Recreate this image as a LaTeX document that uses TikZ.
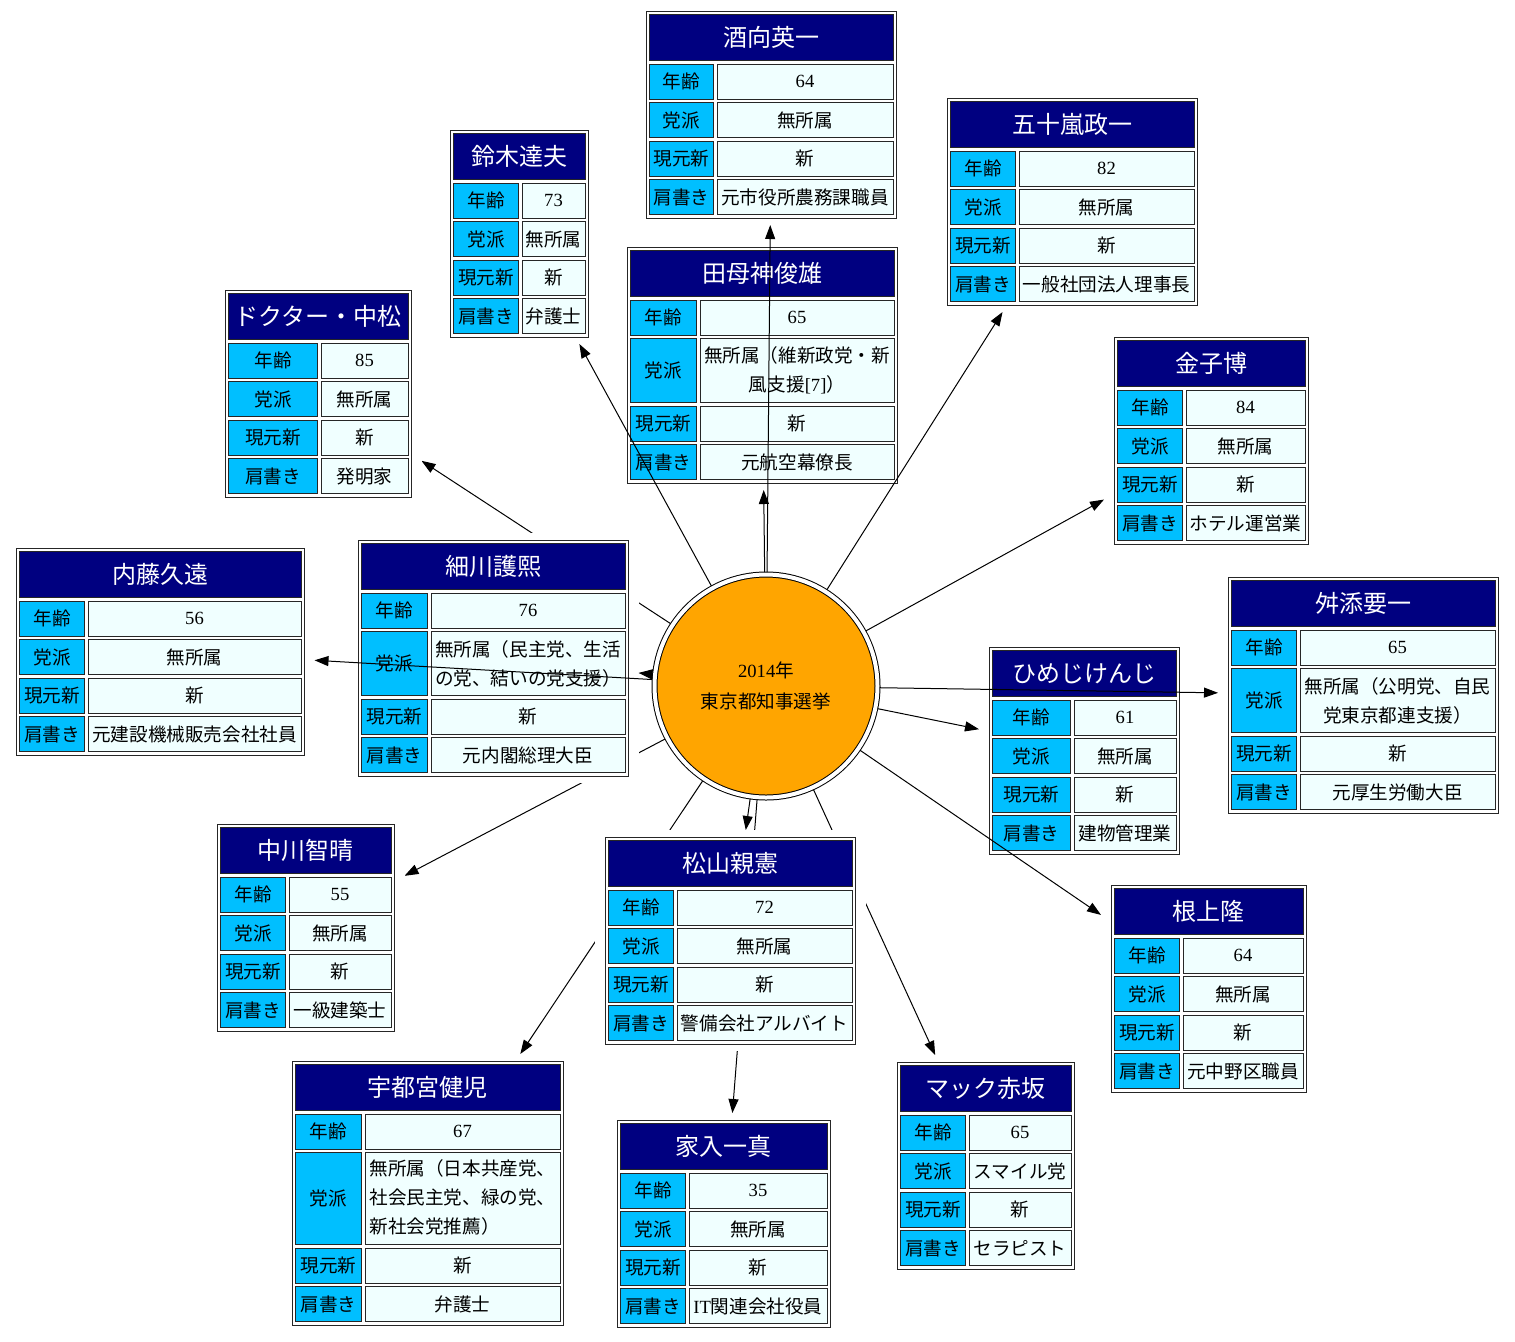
\documentclass[tikz,border=0pt]{standalone}
\usepackage{fontspec}
\setmainfont{Liberation Serif}
\newfontfamily\jpfont{Noto Sans CJK JP}
\usetikzlibrary{arrows.meta,calc}
\pgfdeclarelayer{background}
\pgfsetlayers{background,main}

\definecolor{navyblue}{HTML}{000080}
\definecolor{deepsky}{HTML}{00BFFF}
\definecolor{azurecell}{HTML}{F0FFFF}
\definecolor{orangefill}{HTML}{FFA500}

\tikzset{
  candbox/.style={rectangle, fill=white, inner sep=0pt, outer sep=0pt},
  candframe/.style={rectangle, draw=black!85, line width=0.5pt, fill=white,
    inner sep=0pt, outer sep=0pt},
  cell/.style={rectangle, draw=black!85, line width=0.5pt, inner sep=0pt,
    outer sep=0pt, minimum height=17.5pt},
  headcell/.style={cell, fill=navyblue, text=white, minimum height=23pt,
    font=\jpfont\fontsize{12}{14}\selectfont},
  labelcell/.style={cell, fill=deepsky, font=\jpfont\fontsize{9.3}{14.5}\selectfont},
  valuecell/.style={cell, fill=azurecell, align=center,
    font=\jpfont\fontsize{9.3}{14.5}\selectfont},
  agecell/.style={valuecell, font=\rmfamily\fontsize{9.3}{14.5}\selectfont},
  electcircle/.style={circle, draw=black, line width=0.5pt, double=white,
    double distance=2pt, fill=orangefill, minimum size=111.5pt, inner sep=0pt,
    outer sep=1.25pt, align=center, font=\jpfont\fontsize{9.3}{15.5}\selectfont},
  vote/.style={-{Triangle[length=7pt,width=5pt]}, line width=0.5pt},
}

% #1 name, #2 top left, #3 label width, #4 value width, #5 candidate,
% #6 age, #7 height of the party row, #8 party, #9 job
\newcommand\candidate[9]{%
  \pgfmathsetmacro\tw{#3+#4+10.5}%
  \pgfmathsetmacro\th{172+#7}%
  \node[candbox, minimum width={(\tw+20)*0.5pt}, minimum height={(\th+14)*0.5pt}]
    (#1) at ($#2+(\tw/2,\th/2)$) {};
  \node[candframe, minimum width={\tw*0.5pt}, minimum height={\th*0.5pt}]
    (#1-frame) at (#1.center) {};
  \node[headcell, minimum width={(\tw-7)*0.5pt}, anchor=north]
    (#1-name) at ([yshift=-1.75pt]#1-frame.north) {#5};
  \node[labelcell, minimum width={#3*0.5pt}, anchor=north west]
    (#1-k1) at ([yshift=-1.75pt]#1-name.south west) {年齢};
  \node[agecell, minimum width={#4*0.5pt}, anchor=north west]
    (#1-v1) at ([xshift=1.75pt]#1-k1.north east) {#6};
  \node[labelcell, minimum width={#3*0.5pt}, minimum height={#7*0.5pt}, anchor=north west]
    (#1-k2) at ([yshift=-1.75pt]#1-k1.south west) {党派};
  \node[valuecell, minimum width={#4*0.5pt}, minimum height={#7*0.5pt}, anchor=north west]
    (#1-v2) at ([xshift=1.75pt]#1-k2.north east) {#8};
  \node[labelcell, minimum width={#3*0.5pt}, anchor=north west]
    (#1-k3) at ([yshift=-1.75pt]#1-k2.south west) {現元新};
  \node[valuecell, minimum width={#4*0.5pt}, anchor=north west]
    (#1-v3) at ([xshift=1.75pt]#1-k3.north east) {新};
  \node[labelcell, minimum width={#3*0.5pt}, anchor=north west]
    (#1-k4) at ([yshift=-1.75pt]#1-k3.south west) {肩書き};
  \node[valuecell, minimum width={#4*0.5pt}, anchor=north west]
    (#1-v4) at ([xshift=1.75pt]#1-k4.north east) {#9};
}

\begin{document}
\begin{tikzpicture}[x=0.5pt,y=-0.5pt]
  \useasboundingbox (0,0) rectangle (1515,1341);

  % The election in the middle
  \node[electcircle] (senkyo) at (766,686) {{\rmfamily 2014}年\\東京都知事選挙};

  % Candidates
  \candidate{saka}{(646,11)}{64}{176}{酒向英一}{64}{35}{無所属}{元市役所農務課職員}
  \candidate{igarashi}{(947,98)}{65}{175}{五十嵐政一}{82}{35}{無所属}{一般社団法人理事長}
  \candidate{suzuki}{(450,130)}{65}{63}{鈴木達夫}{73}{35}{無所属}{弁護士}
  \candidate{tamogami}{(627,247)}{66}{194}{田母神俊雄}{65}{64}
    {無所属（維新政党・新\\風支援{\rmfamily [7]}）}{元航空幕僚長}
  \candidate{nakamatsu}{(225,290)}{89}{87}{ドクター・中松}{85}{35}{無所属}{発明家}
  \candidate{kaneko}{(1114,337)}{65}{119}{金子博}{84}{35}{無所属}{ホテル運営業}
  \candidate{naito}{(16,548)}{65}{213}{内藤久遠}{56}{35}{無所属}{元建設機械販売会社社員}
  \candidate{hosokawa}{(358,540)}{66}{194}{細川護熙}{76}{64}
    {無所属（民主党、生活\\の党、結いの党支援）}{元内閣総理大臣}
  \candidate{masuzoe}{(1228,577)}{65}{195}{舛添要一}{65}{64}
    {無所属（公明党、自民\\党東京都連支援）}{元厚生労働大臣}
  \candidate{himeji}{(989,647)}{78}{102}{ひめじけんじ}{61}{35}{無所属}{建物管理業}
  \candidate{nakagawa}{(217,824)}{65}{102}{中川智晴}{55}{35}{無所属}{一級建築士}
  \candidate{matsuyama}{(605,837)}{65}{175}{松山親憲}{72}{35}{無所属}{警備会社アルバイト}
  \candidate{negami}{(1111,885)}{65}{120}{根上隆}{64}{35}{無所属}{元中野区職員}
  \candidate{utsunomiya}{(292,1061)}{66}{195}{宇都宮健児}{67}{92}
    {\begin{tabular}{@{}l@{}}無所属（日本共産党、\\社会民主党、緑の党、\\新社会党推薦）\end{tabular}}{弁護士}
  \candidate{ieiri}{(617,1120)}{65}{138}{家入一真}{35}{35}{無所属}{{\rmfamily IT}関連会社役員}
  \candidate{mac}{(897,1062)}{65}{102}{マック赤坂}{65}{35}{スマイル党}{セラピスト}

  % Edges that run behind the tables
  \begin{pgfonlayer}{background}
    \draw[vote] (senkyo) -- (nakamatsu);
    \draw[vote] (senkyo) -- (nakagawa);
    \draw[vote] (senkyo) -- (utsunomiya);
    \draw[vote] (senkyo) -- (ieiri);
    \draw[vote] (senkyo) -- (mac);
  \end{pgfonlayer}

  % Edges on top
  \draw[vote] (senkyo) -- (saka);
  \draw[vote] (senkyo) -- (igarashi);
  \draw[vote] (senkyo) -- (suzuki);
  \draw[vote] (senkyo) -- (tamogami);
  \draw[vote] (senkyo) -- (kaneko);
  \draw[vote] (senkyo) -- (naito);
  \draw[vote] (senkyo) -- (hosokawa);
  \draw[vote] (senkyo) -- (masuzoe);
  \draw[vote] (senkyo) -- (himeji);
  \draw[vote] (senkyo) -- (matsuyama);
  \draw[vote] (senkyo) -- (negami);

\end{tikzpicture}
\end{document}
